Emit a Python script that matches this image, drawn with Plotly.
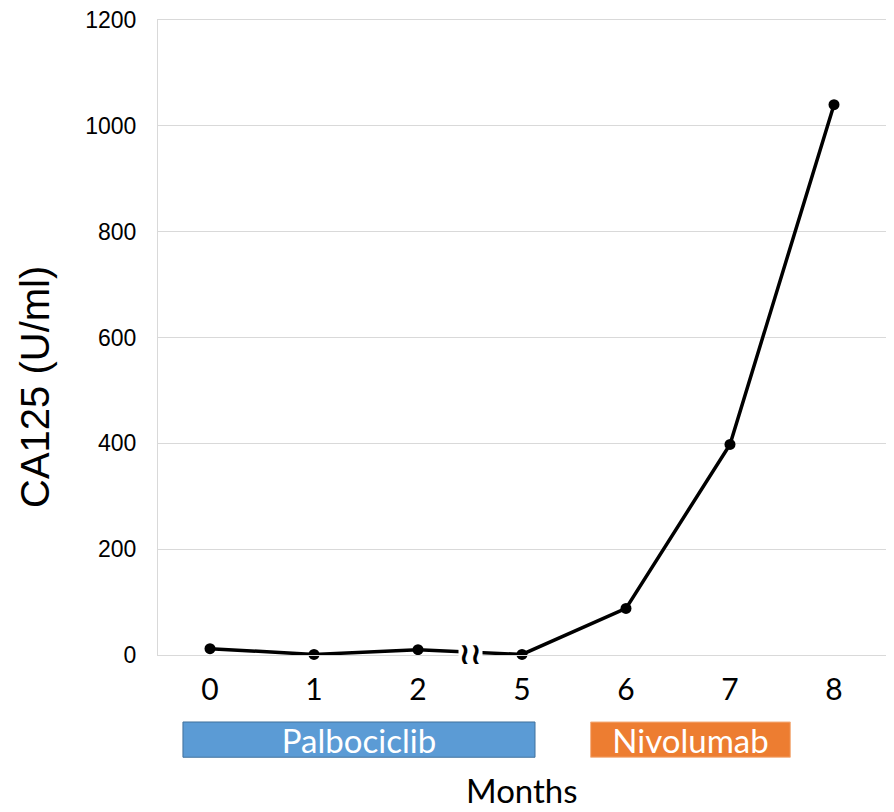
import plotly.graph_objects as go

months = ["0", "1", "2", "5", "6", "7", "8"]
ca125 = [12, 1, 10, 1, 88, 398, 1040]
y_ticks = [0, 200, 400, 600, 800, 1000, 1200]
treatments = ["Palbociclib", "Nivolumab"]
treat_start = [-0.26, 3.66]
treat_end = [3.125, 5.58]
treat_fill = ["#5B9BD5", "#ED7D31"]
treat_line = ["#41719C", "#F4B183"]

xpos = list(range(len(months)))

fig = go.Figure()
fig.add_trace(go.Scatter(
    x=xpos, y=ca125, mode="lines+markers",
    line=dict(color="black", width=3.5),
    marker=dict(color="black", size=11),
    showlegend=False, cliponaxis=False,
))

# axis break marker between month 2 and 5
fig.add_annotation(
    x=(xpos[2] + xpos[3]) / 2, y=(ca125[2] + ca125[3]) / 2,
    text="<b>≀≀</b>", showarrow=False,
    font=dict(size=30, color="black", family="DejaVu Sans"),
    bgcolor="white", borderpad=0, xref="x", yref="y", yshift=-1,
)

for name, s, e, fc, lc in zip(treatments, treat_start, treat_end, treat_fill, treat_line):
    fig.add_shape(type="rect", xref="x", yref="paper",
                  x0=s, x1=e, y0=-0.161, y1=-0.1055,
                  fillcolor=fc, line=dict(color=lc, width=1),
                  label=dict(text=name, font=dict(size=33, color="white", family="Lato"),
                             textposition="middle center"))

fig.add_annotation(x=0.5, y=-0.2126, xref="paper", yref="paper", text="Months",
                   showarrow=False, yanchor="middle",
                   font=dict(size=33, color="black", family="Lato"))
fig.add_annotation(x=-0.169, y=0.422, xref="paper", yref="paper", text="CA125 (U/ml)",
                   showarrow=False, textangle=-90, xanchor="center", yanchor="middle",
                   font=dict(size=40, color="black", family="Liberation Sans"))

fig.update_layout(
    width=886, height=804,
    margin=dict(l=150, r=8, t=12, b=157, autoexpand=False),
    plot_bgcolor="white", paper_bgcolor="white",
    xaxis=dict(
        range=[-0.5, 6.5], tickmode="array", tickvals=xpos, ticktext=months,
        showgrid=False, zeroline=False, automargin=False,
        showline=True, linecolor="#d9d9d9", linewidth=1, mirror=True,
        tickfont=dict(size=30, color="black", family="Lato"),
        ticks="", ticklabelstandoff=8,
    ),
    yaxis=dict(
        range=[0, 1200], tickmode="array", tickvals=y_ticks,
        showgrid=True, gridcolor="#d9d9d9", gridwidth=1, zeroline=False, automargin=False,
        showline=True, linecolor="#d9d9d9", linewidth=1, mirror=True,
        tickfont=dict(size=23, color="black", family="Liberation Sans"),
        ticks="", ticklabelstandoff=16, ticklabeloverflow="allow",
    ),
)

fig.write_html("out.html")
